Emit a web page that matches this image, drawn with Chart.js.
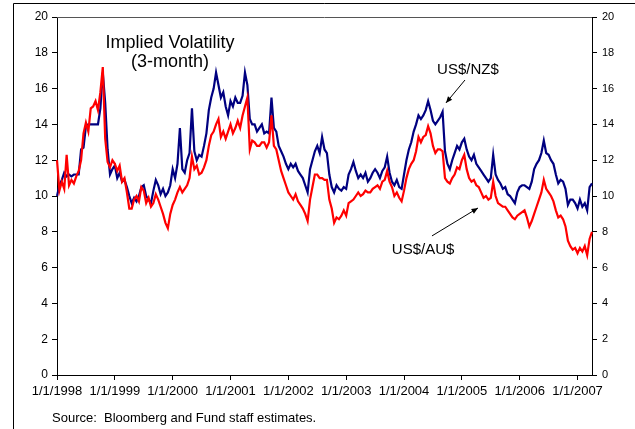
<!DOCTYPE html>
<html>
<head>
<meta charset="utf-8">
<script src="https://cdn.jsdelivr.net/npm/chart.js@4.4.0/dist/chart.umd.min.js"></script>
<style>
  html, body { margin: 0; padding: 0; background: #fff; }
  #wrap { width: 635px; height: 429px; }
</style>
</head>
<body>
<div id="wrap"><canvas id="volChart" width="635" height="429"></canvas></div>
<script>
// semi-monthly observations (1st and 16th), Jan 1998 to Apr 2007
const dates = [];
for (let y = 1998; y <= 2007; y++) {
  for (let m = 1; m <= 12; m++) {
    if (y === 2007 && m > 4) break;
    const mm = String(m).padStart(2, '0');
    dates.push(y + '-' + mm + '-01');
    if (!(y === 2007 && m === 4)) dates.push(y + '-' + mm + '-16');
  }
}

const yearTicks = ['1/1/1998', '1/1/1999', '1/1/2000', '1/1/2001', '1/1/2002',
  '1/1/2003', '1/1/2004', '1/1/2005', '1/1/2006', '1/1/2007'];

// US$/NZ$ implied vol (blue)
const usdNzd = [
  10.0,10.6, 10.9,11.3, 11.1,11.2, 11.1,11.2, 11.2,11.2, 12.6,12.7, 13.9,14.0, 14.0,14.0, 14.0,14.0, 14.9,16.9, 15.2,12.6, 11.2,11.5,
  11.7,11.0, 11.3,10.8, 10.9,10.5, 10.0,9.6, 9.9,9.7, 10.0,10.5, 10.6,10.0, 9.8,9.6, 10.3,10.9, 10.6,10.1, 10.4,10.0, 10.2,10.6,
  11.5,11.0, 11.8,13.8, 11.5,11.3, 12.0,12.4, 14.9,12.5, 12.0,12.3, 12.2,12.8, 13.5,14.8, 15.5,16.0, 16.9,16.2, 15.5,15.8, 15.0,14.5,
  15.3,15.0, 15.5,15.2, 15.2,15.6, 16.9,16.2, 14.3,14.0, 14.0,13.6, 13.8,14.0, 13.5,13.6, 13.5,15.5, 13.8,13.6, 12.8,12.5, 12.2,11.8,
  11.5,11.8, 11.6,11.8, 11.4,11.2, 11.0,10.6, 10.2,11.5, 12.0,12.5, 12.8,12.4, 13.3,12.6, 12.4,11.2, 10.5,10.2, 10.6,10.4, 10.3,10.5,
  10.4,11.2, 11.5,11.9, 11.4,11.0, 11.2,11.0, 11.3,10.8, 11.0,11.3, 11.5,11.3, 11.0,11.4, 11.6,12.2, 11.3,10.8, 10.6,10.9, 10.5,10.4,
  11.2,12.0, 12.6,13.0, 13.6,14.0, 14.5,14.3, 14.5,14.8, 15.3,14.8, 14.2,14.0, 14.2,14.4, 14.7,12.5, 11.8,11.5, 12.0,12.4, 12.8,12.6,
  13.0,13.2, 12.6,12.2, 12.0,12.3, 11.8,11.6, 11.4,11.2, 11.0,10.8, 11.0,12.3, 11.2,10.9, 10.7,10.4, 10.5,10.1, 10.0,9.8, 9.6,10.2,
  10.5,10.6, 10.6,10.5, 10.4,10.8, 11.5,11.8, 12.0,12.4, 13.1,12.4, 12.3,12.0, 11.8,11.2, 10.7,10.9, 10.8,10.4, 9.5,9.8, 9.8,9.6,
  9.3,9.8, 9.4,9.6, 9.2,10.5, 10.7
];

// US$/AU$ implied vol (red)
const usdAud = [
  12.0,10.3, 10.8,10.4, 12.3,10.6, 10.9,10.7, 11.1,11.4, 12.0,13.5, 14.1,13.6, 14.9,15.0, 15.3,14.8, 15.8,17.2, 13.2,11.9, 11.6,12.0,
  11.8,11.4, 11.7,10.8, 11.0,10.2, 9.3,9.3, 9.8,10.0, 9.7,10.5, 10.3,9.6, 9.9,9.4, 9.6,10.1, 9.8,9.4, 9.0,8.5, 8.2,9.0,
  9.5,9.8, 10.2,10.5, 10.2,10.4, 10.6,11.0, 12.2,11.5, 11.7,11.2, 11.3,11.6, 12.0,12.8, 13.4,13.6, 14.0,14.3, 13.3,13.6, 13.2,13.6,
  14.0,13.5, 13.8,14.2, 13.8,14.5, 15.0,15.5, 12.6,13.1, 13.0,12.8, 12.8,13.0, 13.0,12.7, 13.0,14.5, 12.8,12.6, 12.0,11.4, 11.0,10.6,
  10.2,10.0, 9.8,10.1, 9.7,9.5, 9.3,9.0, 8.6,9.8, 10.5,11.2, 11.2,11.0, 11.0,10.9, 10.9,9.8, 9.3,8.5, 8.8,8.7, 8.9,9.2,
  8.9,9.6, 9.7,9.8, 10.0,10.2, 10.0,10.1, 10.3,10.2, 10.2,10.4, 10.5,10.6, 10.4,10.8, 10.9,11.4, 10.8,10.5, 10.0,10.2, 9.9,9.7,
  10.3,11.0, 11.5,11.8, 12.0,12.5, 13.3,13.0, 13.3,13.4, 13.9,13.5, 12.8,12.4, 12.6,12.6, 12.5,11.0, 10.8,10.7, 11.0,11.2, 11.6,11.5,
  12.0,12.3, 11.5,11.0, 10.8,10.9, 10.6,10.5, 10.2,9.9, 10.0,9.8, 9.9,10.8, 10.0,9.6, 9.5,9.4, 9.4,9.2, 9.0,8.8, 8.7,8.9,
  9.0,9.1, 9.2,8.8, 8.3,8.6, 9.0,9.4, 9.8,10.2, 10.9,10.4, 10.2,10.0, 9.7,9.2, 8.8,8.9, 8.7,8.3, 7.5,7.2, 7.0,7.1,
  6.8,7.1, 6.9,7.2, 6.7,7.6, 8.0
];

Chart.defaults.font.family = "'Liberation Sans', Arial, sans-serif";
Chart.defaults.color = '#000';

// title, series labels, arrows and the page frame
const extras = {
  id: 'extras',
  afterDraw(chart) {
    const ctx = chart.ctx;
    const a = chart.chartArea;
    const xs = chart.scales.x, ys = chart.scales.y;
    const px = i => xs.getPixelForValue(i);
    const py = v => ys.getPixelForValue(v);
    ctx.save();

    // outer frame
    ctx.strokeStyle = '#000';
    ctx.lineWidth = 1;
    ctx.beginPath();
    ctx.moveTo(13.5, 429); ctx.lineTo(13.5, 3.5); ctx.lineTo(635, 3.5);
    ctx.stroke();

    // top edge of plot box
    ctx.strokeStyle = '#555';
    ctx.beginPath();
    ctx.moveTo(a.left, a.top + 0.5); ctx.lineTo(a.right, a.top + 0.5);
    ctx.stroke();

    ctx.fillStyle = '#000';
    ctx.textAlign = 'center';
    ctx.textBaseline = 'middle';
    ctx.font = "18px 'Liberation Sans', Arial";
    ctx.fillText('Implied Volatility', px(46.9), py(18.55));
    ctx.fillText('(3-month)', px(46.9), py(17.49));

    ctx.font = "15px 'Liberation Sans', Arial";
    ctx.fillText('US$/NZ$', px(170.5), py(17.04));
    ctx.fillText('US$/AU$', px(151.9), py(6.98));

    const arrow = (x1, y1, x2, y2) => {
      ctx.strokeStyle = '#000';
      ctx.lineWidth = 1;
      ctx.beginPath();
      ctx.moveTo(x1, y1); ctx.lineTo(x2, y2);
      ctx.stroke();
      const ang = Math.atan2(y2 - y1, x2 - x1);
      ctx.beginPath();
      ctx.moveTo(x2, y2);
      ctx.lineTo(x2 - 7 * Math.cos(ang - 0.4), y2 - 7 * Math.sin(ang - 0.4));
      ctx.lineTo(x2 - 7 * Math.cos(ang + 0.4), y2 - 7 * Math.sin(ang + 0.4));
      ctx.closePath();
      ctx.fill();
    };
    arrow(px(169.3), py(16.48), px(161.4), py(15.2));
    arrow(px(155.6), py(7.77), px(174.7), py(9.33));

    ctx.textAlign = 'left';
    ctx.font = "13px 'Liberation Sans', Arial";
    ctx.fillText('Source:  Bloomberg and Fund staff estimates.', 52, 418);
    ctx.restore();
  }
};

const ctx = document.getElementById('volChart').getContext('2d');
new Chart(ctx, {
  type: 'line',
  data: {
    labels: dates,
    datasets: [
      {
        label: 'US$/AU$',
        data: usdAud,
        borderColor: '#ff0000',
        borderWidth: 2.2,
        pointRadius: 0,
        tension: 0,
        fill: false
      },
      {
        label: 'US$/NZ$',
        data: usdNzd,
        borderColor: '#000080',
        borderWidth: 2.2,
        pointRadius: 0,
        tension: 0,
        fill: false
      }
    ]
  },
  options: {
    responsive: false,
    animation: false,
    layout: { padding: { top: 17, left: 0, right: 0, bottom: 0 } },
    plugins: { legend: { display: false }, tooltip: { enabled: false } },
    scales: {
      x: {
        offset: false,
        afterFit: s => { s.height = 54; },
        grid: { drawOnChartArea: false, color: '#000', tickLength: 5 },
        border: { color: '#000' },
        ticks: {
          autoSkip: false,
          maxRotation: 0,
          padding: 4,
          font: { size: 13 },
          callback: function (value, index) {
            const d = dates[index];
            if (!d.endsWith('-01-01')) return null;
            return yearTicks[Number(d.slice(0, 4)) - 1998];
          }
        }
      },
      y: {
        position: 'left',
        min: 0, max: 20,
        afterFit: s => { s.width = 57; },
        grid: { drawOnChartArea: false, color: '#000', tickLength: 5 },
        border: { color: '#000' },
        ticks: { stepSize: 2, padding: 4, font: { size: 12 } }
      },
      y2: {
        position: 'right',
        min: 0, max: 20,
        afterFit: s => { s.width = 43; },
        grid: { drawOnChartArea: false, color: '#000', tickLength: 5 },
        border: { color: '#000' },
        ticks: { stepSize: 2, padding: 5, font: { size: 11 } }
      }
    }
  },
  plugins: [extras]
});
</script>
</body>
</html>
